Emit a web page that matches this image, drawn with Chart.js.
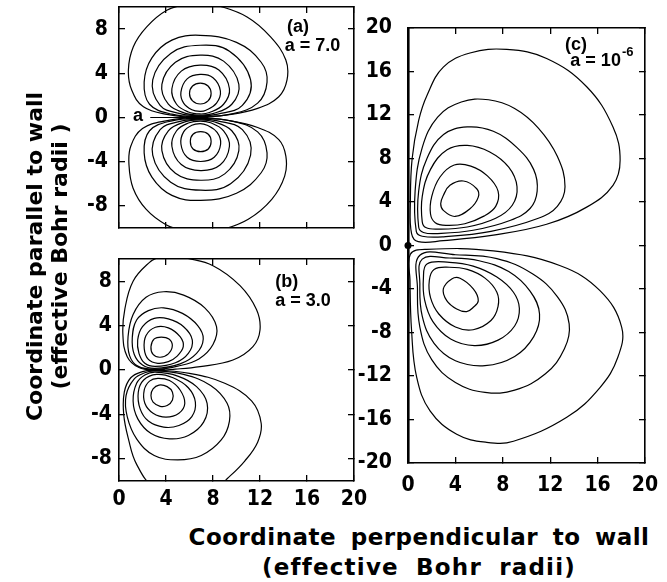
<!DOCTYPE html>
<html><head><meta charset="utf-8">
<script src="https://cdn.jsdelivr.net/npm/chart.js@4.4.1/dist/chart.umd.min.js"></script>
<style>
html,body{margin:0;padding:0;background:#fff;}
body{width:667px;height:582px;position:relative;overflow:hidden;}
canvas{position:absolute;}
.t{position:absolute;font-family:'DejaVu Sans',sans-serif;font-weight:bold;font-size:23px;line-height:23px;height:23px;white-space:nowrap;text-align:center;color:#000;}
</style></head><body>
<canvas id="ca" width="370" height="240" style="left:0;top:0"></canvas>
<canvas id="cb" width="370" height="280" style="left:0;top:240px"></canvas>
<canvas id="cc" width="327" height="520" style="left:340px;top:0"></canvas>
<div class="t" style="left:-166px;top:244.5px;width:400px;font-size:22px;transform:rotate(-90deg)">Coordinate parallel to wall</div>
<div class="t" style="left:-141px;top:244.5px;width:400px;font-size:22px;transform:rotate(-90deg)">(effective Bohr radii )</div>
<div class="t" style="left:169px;top:525.5px;width:500px;letter-spacing:0.5px;word-spacing:6px">Coordinate perpendicular to wall</div>
<div class="t" style="left:169px;top:556px;width:500px;letter-spacing:1.2px;word-spacing:8px">(effective Bohr radii)</div>
<script>
// ---------- tick values ----------
const xTickValues = [0, 4, 8, 12, 16, 20];
const yTicksAB = [-8, -4, 0, 4, 8];
const yTicksC = [-20, -16, -12, -8, -4, 0, 4, 8, 12, 16, 20];

// ---------- panel (a), a = 7.0 : contour curves [x, y] ----------
const A_up1 = [[6.92,3.11],[7.58,2.85],[7.84,2.17],[7.58,1.5],[6.92,1.22],[6.26,1.5],[6.0,2.17],[6.26,2.85]];
const A_up2 = [[6.9,3.9],[8.0,3.6],[8.63,2.4],[8.3,1.3],[7.4,0.65],[6.9,0.55],[6.2,0.7],[5.5,1.3],[5.27,2.3],[5.8,3.5]];
const A_up3 = [[6.9,4.74],[8.5,4.3],[9.4,2.6],[8.9,1.2],[7.7,0.45],[6.9,0.32],[5.9,0.5],[4.9,1.2],[4.5,2.6],[5.3,4.2]];
const A_up4 = [[6.9,5.64],[8.9,5.1],[10.2,3.0],[9.6,1.2],[8.0,0.35],[6.9,0.22],[5.6,0.4],[4.2,1.2],[3.65,3.0],[4.8,5.0]];
const A_up5 = [[6.9,6.54],[9.4,6.0],[11.2,3.4],[10.5,1.1],[8.4,0.3],[6.9,0.15],[5.2,0.35],[3.5,1.1],[2.87,3.4],[4.4,5.8]];
const A_up6 = [[6.9,7.44],[10.0,6.8],[12.1,5.0],[12.6,3.2],[11.8,1.3],[9.5,0.3],[6.9,0.1],[4.5,0.3],[2.6,1.2],[2.14,3.2],[2.8,5.4],[4.5,7.0]];
const A_upO = [[6.8,0.02],[4.07,0.29],[2.08,0.97],[1.08,2.48],[0.8,4.3],[1.22,6.4],[2.36,8.2],[4.07,9.7],[5.8,10.25],[7.1,10.4],[8.35,10.15],[10.9,9.1],[12.9,7.3],[14.2,5.2],[14.3,3.4],[13.6,1.88],[11.8,0.83],[9.2,0.23]];
const A_lo1 = [[6.95,-1.28],[7.6,-1.52],[7.84,-2.18],[7.6,-2.85],[6.95,-3.09],[6.3,-2.85],[6.07,-2.18],[6.3,-1.52]];
const A_lo2 = [[6.9,-0.55],[7.5,-0.7],[8.35,-1.35],[8.65,-2.4],[8.1,-3.6],[6.95,-3.98],[5.8,-3.6],[5.27,-2.4],[5.5,-1.3],[6.2,-0.7]];
const A_lo3 = [[6.9,-0.32],[7.8,-0.48],[8.9,-1.2],[9.4,-2.6],[8.6,-4.3],[6.95,-4.8],[5.3,-4.25],[4.5,-2.6],[4.9,-1.2],[5.9,-0.5]];
const A_lo4 = [[6.9,-0.22],[8.0,-0.36],[9.6,-1.2],[10.2,-3.0],[9.0,-5.1],[6.95,-5.68],[4.8,-5.05],[3.65,-3.0],[4.2,-1.2],[5.6,-0.4]];
const A_lo5 = [[6.9,-0.15],[8.4,-0.3],[10.5,-1.1],[11.2,-3.4],[9.5,-6.0],[6.95,-6.58],[4.4,-5.85],[2.87,-3.4],[3.5,-1.1],[5.2,-0.35]];
const A_lo6 = [[6.9,-0.1],[9.5,-0.3],[11.8,-1.3],[12.6,-3.2],[12.1,-5.0],[10.0,-6.85],[6.95,-7.5],[4.5,-7.05],[2.8,-5.4],[2.14,-3.2],[2.6,-1.2],[4.5,-0.3]];
const A_loO = [[6.8,-0.02],[9.2,-0.25],[11.8,-0.9],[13.6,-2.0],[14.2,-3.5],[14.1,-5.3],[13.0,-7.4],[11.0,-9.2],[8.6,-10.2],[7.0,-10.4],[5.6,-10.25],[4.0,-9.7],[2.3,-8.3],[1.2,-6.4],[0.85,-4.3],[1.0,-2.6],[2.0,-1.0],[4.0,-0.3]];
const A_marker = [[2.66,0],[6.8,0]];
const A_core = [[5.7,0],[7.6,0]];

// ---------- panel (b), a = 3.0 ----------
const B_up1 = [[3.5,1.15],[4.2,1.45],[4.54,2.2],[4.25,2.8],[3.6,2.97],[3.0,2.8],[2.72,2.1],[2.9,1.4]];
const B_up2 = [[3.3,0.6],[4.2,0.75],[4.9,1.2],[5.47,2.1],[5.2,3.0],[4.2,3.8],[3.1,3.85],[2.3,3.1],[2.15,1.9],[2.5,0.95]];
const B_up3 = [[3.1,0.32],[4.8,0.65],[5.9,1.5],[6.24,2.7],[5.5,3.9],[4.2,4.6],[3.0,4.65],[2.0,3.9],[1.59,2.7],[1.7,1.5],[2.2,0.6]];
const B_up4 = [[3.06,0.15],[5.2,0.55],[6.6,1.5],[7.17,2.8],[6.7,4.0],[5.4,5.1],[3.8,5.6],[2.5,5.35],[1.5,4.5],[1.13,2.9],[1.3,1.4],[2.0,0.45]];
const B_up5 = [[3.06,0.06],[5.0,0.35],[6.8,1.0],[8.0,2.3],[8.3,3.9],[7.3,5.6],[5.5,6.75],[3.8,7.05],[2.3,6.55],[1.2,5.0],[0.77,3.0],[0.9,1.3],[1.6,0.35]];
const B_upO = [[3.06,0.0],[4.8,0.08],[6.9,0.3],[9.7,0.9],[11.4,2.1],[12.0,3.6],[11.7,5.45],[10.3,7.6],[8.0,9.4],[5.7,10.1],[4.5,10.35],[3.4,10.15],[2.6,9.7],[1.2,8.0],[0.5,5.5],[0.33,3.2],[0.7,1.2],[1.7,0.22]];
const B_lo1 = [[3.4,-1.36],[4.1,-1.5],[4.55,-2.0],[4.55,-2.7],[4.1,-3.2],[3.5,-3.27],[2.9,-2.9],[2.72,-2.3],[2.9,-1.7]];
const B_lo2 = [[3.3,-0.75],[4.3,-0.95],[5.2,-1.8],[5.6,-3.0],[5.1,-3.9],[4.0,-4.25],[2.9,-3.9],[2.2,-3.0],[2.15,-1.8],[2.6,-1.0]];
const B_lo3 = [[3.2,-0.4],[4.6,-0.7],[5.9,-1.6],[6.5,-2.9],[6.2,-4.2],[5.1,-5.0],[3.8,-5.15],[2.5,-4.6],[1.8,-3.5],[1.64,-2.0],[2.1,-0.9]];
const B_lo4 = [[3.1,-0.2],[5.0,-0.55],[6.6,-1.5],[7.5,-3.0],[7.2,-4.7],[5.9,-5.9],[4.3,-6.2],[2.7,-5.7],[1.6,-4.4],[1.2,-2.8],[1.5,-1.2],[2.2,-0.45]];
const B_lo5 = [[3.06,-0.08],[5.5,-0.4],[7.8,-1.4],[9.2,-3.0],[9.4,-4.6],[8.7,-6.3],[7.0,-7.7],[5.0,-8.1],[3.0,-7.7],[1.5,-6.2],[0.7,-4.2],[0.6,-2.3],[1.3,-0.8],[2.2,-0.25]];
const B_loO = [[3.06,0.0],[6.0,-0.3],[9.0,-1.2],[11.3,-2.8],[12.1,-4.8],[11.8,-6.5],[10.7,-8.2],[9.2,-9.8],[8.4,-10.5],[5.8,-10.9],[3.0,-10.5],[1.5,-8.5],[0.8,-6.2],[0.4,-4.0],[0.45,-2.0],[1.0,-0.7],[2.0,-0.15]];
const B_core = [[2.4,0],[3.9,0]];

// ---------- panel (c), a = 1e-6 ----------
const C_up1 = [[3.54,5.53],[4.67,5.93],[5.8,5.22],[5.93,4.45],[5.23,3.38],[3.97,2.67],[2.98,3.23],[2.76,3.84],[2.98,4.6]];
const C_up2 = [[1.9,2.9],[2.0,4.5],[2.7,6.3],[3.9,7.4],[5.3,7.3],[6.7,6.4],[7.6,5.0],[7.4,3.6],[6.4,2.7],[4.8,2.0],[3.2,1.85],[2.3,2.1]];
const C_up3 = [[1.2,2.2],[1.2,4.5],[1.9,7.0],[3.3,8.8],[5.0,9.2],[6.9,8.6],[8.5,7.2],[9.2,5.4],[8.8,3.7],[7.4,2.5],[5.0,1.7],[2.5,1.5],[1.5,1.65]];
const C_up4 = [[0.9,1.7],[0.9,5.0],[1.6,8.0],[3.0,10.2],[5.0,10.9],[7.2,10.5],[9.2,9.0],[10.6,7.0],[10.9,5.0],[10.3,3.4],[8.6,2.3],[5.5,1.4],[2.5,1.1],[1.3,1.2]];
const C_up5 = [[0.7,1.3],[0.6,5.0],[1.2,9.0],[2.5,11.8],[4.5,13.2],[6.8,13.4],[9.0,12.6],[11.0,10.8],[12.6,8.2],[13.25,5.4],[12.6,3.6],[11.0,2.5],[7.0,1.3],[3.0,0.8],[1.2,0.85]];
const C_upO = [[0.87,0.35],[2.98,0.45],[7.2,0.95],[11.7,1.95],[15.08,3.53],[17.3,5.53],[17.9,7.83],[17.3,10.9],[15.08,14.6],[11.7,17.2],[8.33,18.03],[5.23,17.7],[2.98,16.4],[1.6,13.8],[0.9,11.5],[0.35,8.0],[0.2,4.0],[0.3,1.1]];
const C_lo1 = [[2.98,-3.99],[3.69,-3.07],[4.39,-3.01],[5.51,-3.99],[5.93,-5.07],[5.51,-5.68],[4.95,-6.08],[4.11,-5.84],[3.27,-5.07]];
const C_lo2 = [[2.2,-2.2],[3.5,-2.0],[5.0,-2.2],[6.5,-3.0],[7.5,-4.3],[7.6,-5.6],[7.0,-6.9],[5.5,-7.75],[4.0,-7.5],[2.6,-6.3],[1.9,-4.8],[1.8,-3.2]];
const C_lo3 = [[1.6,-1.7],[3.5,-1.55],[5.5,-1.9],[7.5,-2.9],[8.9,-4.3],[9.4,-5.8],[9.0,-7.4],[7.6,-8.7],[5.6,-9.2],[3.6,-8.6],[2.1,-7.0],[1.4,-5.0],[1.3,-3.0]];
const C_lo4 = [[1.2,-1.25],[3.5,-1.15],[6.0,-1.4],[8.5,-2.4],[10.3,-4.2],[11.1,-6.3],[10.6,-8.4],[9.0,-10.2],[6.5,-11.05],[4.0,-10.6],[2.2,-9.0],[1.2,-6.5],[1.0,-3.5]];
const C_lo5 = [[1.0,-0.9],[4.0,-0.85],[7.5,-1.2],[10.5,-2.6],[12.6,-4.7],[13.6,-7.2],[13.2,-9.5],[11.6,-11.8],[9.0,-13.3],[6.5,-13.5],[4.0,-12.6],[2.0,-10.5],[1.0,-7.5],[0.8,-4.0]];
const C_loO = [[1.58,-0.35],[7.2,-0.5],[12.8,-1.84],[16.2,-4.15],[18.03,-7.5],[17.7,-10.3],[16.2,-13.06],[13.4,-15.8],[8.9,-18.0],[6.64,-18.1],[4.11,-17.35],[1.86,-15.2],[0.73,-12.1],[0.3,-7.8],[0.17,-3.2],[0.2,-0.8]];
const C_source = [[0,0]];

const FONT = "'Liberation Sans Narrow','DejaVu Sans Condensed','Liberation Sans',sans-serif";
const AFONT = "'Liberation Sans','DejaVu Sans',sans-serif";
Chart.defaults.font.family = FONT;
Chart.defaults.font.weight = 'bold';
Chart.defaults.font.size = 21;
Chart.defaults.color = '#000';

function closedCurve(pts) {
  const n = pts.length;
  const arr = [pts[n - 1], ...pts, pts[0], pts[1]].map(p => ({x: p[0], y: p[1]}));
  const L = arr.length;
  return {
    data: arr, showLine: true, borderColor: '#000', borderWidth: 1.2, pointRadius: 0,
    tension: 0.4, fill: false, clip: 0,
    segment: { borderColor: c => (c.p0DataIndex === 0 || c.p1DataIndex === L - 1) ? 'rgba(0,0,0,0)' : '#000' }
  };
}
function openLine(pts, w) {
  return { data: pts.map(p => ({x: p[0], y: p[1]})), showLine: true, borderColor: '#000',
    borderWidth: w, pointRadius: 0, tension: 0, fill: false, clip: 0 };
}

const annotPlugin = {
  id: 'annot',
  afterDatasetsDraw(chart, args, opts) {
    const {ctx, scales} = chart;
    ctx.save();
    ctx.fillStyle = '#000';
    ctx.textAlign = 'left';
    ctx.textBaseline = 'middle';
    (opts.items || []).forEach(it => {
      const px = scales.x.getPixelForValue(it.x), py = scales.y.getPixelForValue(it.y);
      ctx.font = 'bold ' + it.size + 'px ' + AFONT;
      ctx.fillText(it.text, px, py);
      if (it.sup) {
        const w = ctx.measureText(it.text).width;
        ctx.font = 'bold 13px ' + AFONT;
        ctx.fillText(it.sup, px + w + 1, py - 8);
      }
    });
    ctx.restore();
  }
};

function makeScales(o) {
  const grid = {drawOnChartArea: false, drawTicks: true, tickLength: -6, color: '#000', lineWidth: 1.3};
  const border = {display: true, color: '#000', width: 1.6};
  const setTicks = vals => s => { s.ticks = vals.map(v => ({value: v})); };
  const fix = (w, h) => s => {
    if (w !== null) s.width = w;
    if (h !== null) s.height = h;
    s.paddingLeft = 0; s.paddingRight = 0; s.paddingTop = 0; s.paddingBottom = 0;
  };
  return {
    x: {type: 'linear', position: 'bottom', min: 0, max: 20, afterBuildTicks: setTicks(xTickValues),
        grid, border, ticks: {display: o.xLabels, padding: o.xPad, maxRotation: 0, autoSkip: false},
        afterFit: fix(null, o.xH)},
    x2: {type: 'linear', position: 'top', min: 0, max: 20, afterBuildTicks: setTicks(xTickValues),
        grid, border, ticks: {display: false}, afterFit: fix(null, 0)},
    y: {type: 'linear', position: 'left', min: o.yMin, max: o.yMax, afterBuildTicks: setTicks(o.yTicks),
        grid, border: {display: true, color: '#000', width: o.leftBorder || 1.6},
        ticks: {padding: o.yPad, autoSkip: false}, afterFit: fix(o.yW, null)},
    y2: {type: 'linear', position: 'right', min: o.yMin, max: o.yMax, afterBuildTicks: setTicks(o.yTicks),
        grid, border, ticks: {display: false}, afterFit: fix(0, null)}
  };
}

function makeChart(id, datasets, scaleOpts, padding, items) {
  return new Chart(document.getElementById(id), {
    type: 'scatter',
    data: {datasets},
    options: {
      responsive: false, animation: false, devicePixelRatio: 1,
      layout: {padding},
      elements: {line: {capBezierPoints: false}},
      plugins: {legend: {display: false}, tooltip: {enabled: false}, annot: {items}},
      scales: makeScales(scaleOpts)
    },
    plugins: [annotPlugin]
  });
}

makeChart('ca',
  [A_up1, A_up2, A_up3, A_up4, A_up5, A_up6, A_upO, A_lo1, A_lo2, A_lo3, A_lo4, A_lo5, A_lo6, A_loO].map(closedCurve)
    .concat([openLine(A_marker, 1.2), openLine(A_core, 3)]),
  {xLabels: false, xH: 0, xPad: 0, yMin: -10, yMax: 10, yTicks: yTicksAB, yW: 119, yPad: 17},
  {left: 0, top: 7, right: 16, bottom: 12},
  [{text: '(a)', x: 14.3, y: 8.2, size: 18}, {text: 'a = 7.0', x: 14.1, y: 6.5, size: 18}, {text: 'a', x: 1.2, y: 0.1, size: 18}]
);

makeChart('cb',
  [B_up1, B_up2, B_up3, B_up4, B_up5, B_upO, B_lo1, B_lo2, B_lo3, B_lo4, B_lo5, B_loO].map(closedCurve)
    .concat([openLine(B_core, 2.5)]),
  {xLabels: true, xH: 30, xPad: 12, yMin: -10, yMax: 10, yTicks: yTicksAB, yW: 119, yPad: 13},
  {left: 0, top: 19, right: 16, bottom: 9},
  [{text: '(b)', x: 13.3, y: 7.95, size: 18}, {text: 'a = 3.0', x: 13.3, y: 6.2, size: 18}]
);

makeChart('cc',
  [C_up1, C_up2, C_up3, C_up4, C_up5, C_upO, C_lo1, C_lo2, C_lo3, C_lo4, C_lo5, C_loO].map(closedCurve)
    .concat([{data: C_source.map(p => ({x: p[0], y: p[1]})), pointRadius: 3.5, pointBackgroundColor: '#000', pointBorderWidth: 0, showLine: false, clip: false}]),
  {xLabels: true, xH: 30, xPad: 16, yMin: -20, yMax: 20, yTicks: yTicksC, yW: 68, yPad: 22, leftBorder: 2.6},
  {left: 0, top: 28, right: 22, bottom: 27},
  [{text: '(c)', x: 13.25, y: 18.4, size: 18}, {text: 'a = 10', x: 13.7, y: 17.0, size: 18, sup: '-6'}]
);
</script>
</body></html>
